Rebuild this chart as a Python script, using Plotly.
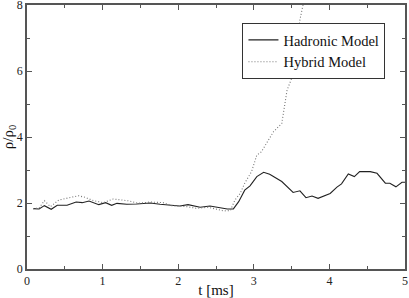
import plotly.graph_objects as go

# Hadronic Model (solid)
t_had = [0.08, 0.16, 0.23, 0.32, 0.40, 0.53, 0.65, 0.73, 0.82, 0.95, 1.04, 1.12, 1.19, 1.32,
         1.45, 1.63, 1.76, 1.89, 2.02, 2.13, 2.29, 2.42, 2.55, 2.65, 2.73, 2.80, 2.88, 2.95,
         3.04, 3.13, 3.21, 3.37, 3.52, 3.61, 3.69, 3.77, 3.85, 4.01, 4.10, 4.16, 4.25, 4.33,
         4.40, 4.54, 4.63, 4.74, 4.80, 4.88, 4.96, 5.00]
rho_had = [1.83, 1.82, 1.92, 1.81, 1.93, 1.93, 2.03, 2.01, 2.06, 1.95, 2.01, 1.93, 1.99, 1.96,
           1.97, 2.00, 1.96, 1.94, 1.91, 1.95, 1.87, 1.91, 1.85, 1.82, 1.82, 2.04, 2.39, 2.52,
           2.80, 2.93, 2.87, 2.65, 2.32, 2.37, 2.16, 2.21, 2.14, 2.29, 2.48, 2.58, 2.88, 2.80,
           2.95, 2.95, 2.90, 2.60, 2.60, 2.49, 2.63, 2.63]

# Hybrid Model (dotted)
t_hyb = [0.08, 0.16, 0.23, 0.31, 0.42, 0.53, 0.68, 0.77, 0.88, 1.01, 1.14, 1.26, 1.36, 1.47,
         1.63, 1.80, 1.91, 2.11, 2.24, 2.40, 2.51, 2.60, 2.69, 2.75, 2.82, 2.88, 2.97, 3.04,
         3.10, 3.19, 3.26, 3.37, 3.44, 3.51, 3.61, 3.66, 3.70]
rho_hyb = [1.83, 1.85, 2.07, 1.89, 2.09, 2.14, 2.22, 2.17, 2.07, 2.01, 2.12, 2.09, 2.06, 1.99,
           2.03, 2.01, 1.92, 1.89, 1.84, 1.87, 1.81, 1.76, 1.77, 2.09, 2.29, 2.60, 2.95, 3.45,
           3.55, 3.91, 4.16, 4.41, 5.42, 5.83, 7.55, 8.10, 8.60]

x_ticks = [0, 1, 2, 3, 4, 5]
y_ticks = [0, 2, 4, 6, 8]

FONT = "Liberation Serif, Times New Roman, DejaVu Serif, serif"

fig = go.Figure()
fig.add_trace(go.Scatter(x=t_had, y=rho_had, mode="lines", name="Hadronic Model",
                         line=dict(color="#222222", width=1.1)))
fig.add_trace(go.Scatter(x=t_hyb, y=rho_hyb, mode="lines", name="Hybrid Model",
                         line=dict(color="#777777", width=1.1, dash="1px,2px")))

axis_common = dict(showline=True, linecolor="#555555", linewidth=1.5, mirror="allticks",
                   ticks="inside", ticklen=5, tickcolor="#555555", tickwidth=1,
                   showgrid=False, zeroline=False, automargin=False,
                   ticklabeloverflow="allow",
                   tickfont=dict(family=FONT, size=12, color="#222222"))

fig.update_layout(
    width=409, height=298,
    margin=dict(l=27, r=4, t=5, b=29),
    paper_bgcolor="white", plot_bgcolor="white",
    font=dict(family=FONT, color="#111111"),
    xaxis=dict(range=[0, 5], tickvals=x_ticks, ticktext=[str(v) for v in x_ticks],
               minor=dict(ticks="inside", dtick=0.5, ticklen=3, tickcolor="#555555"),
               title=dict(text="t [ms]", font=dict(family=FONT, size=15), standoff=0),
               **axis_common),
    yaxis=dict(range=[0, 8], tickvals=y_ticks, ticktext=[str(v) for v in y_ticks],
               minor=dict(ticks="inside", dtick=1, ticklen=3, tickcolor="#555555"),
               title=dict(text="ρ/ρ<sub>0</sub>", font=dict(family=FONT, size=15), standoff=2),
               **axis_common),
    legend=dict(x=0.57, y=0.932, xanchor="left", yanchor="top",
                bgcolor="white", bordercolor="#333333", borderwidth=1,
                font=dict(family=FONT, size=14.5, color="#111111"),
                tracegroupgap=0, itemwidth=30),
    showlegend=True,
)

fig.write_html("out.html",
               config={"displayModeBar": False},
               post_script="document.body.style.margin='0';document.body.style.padding='0';")
